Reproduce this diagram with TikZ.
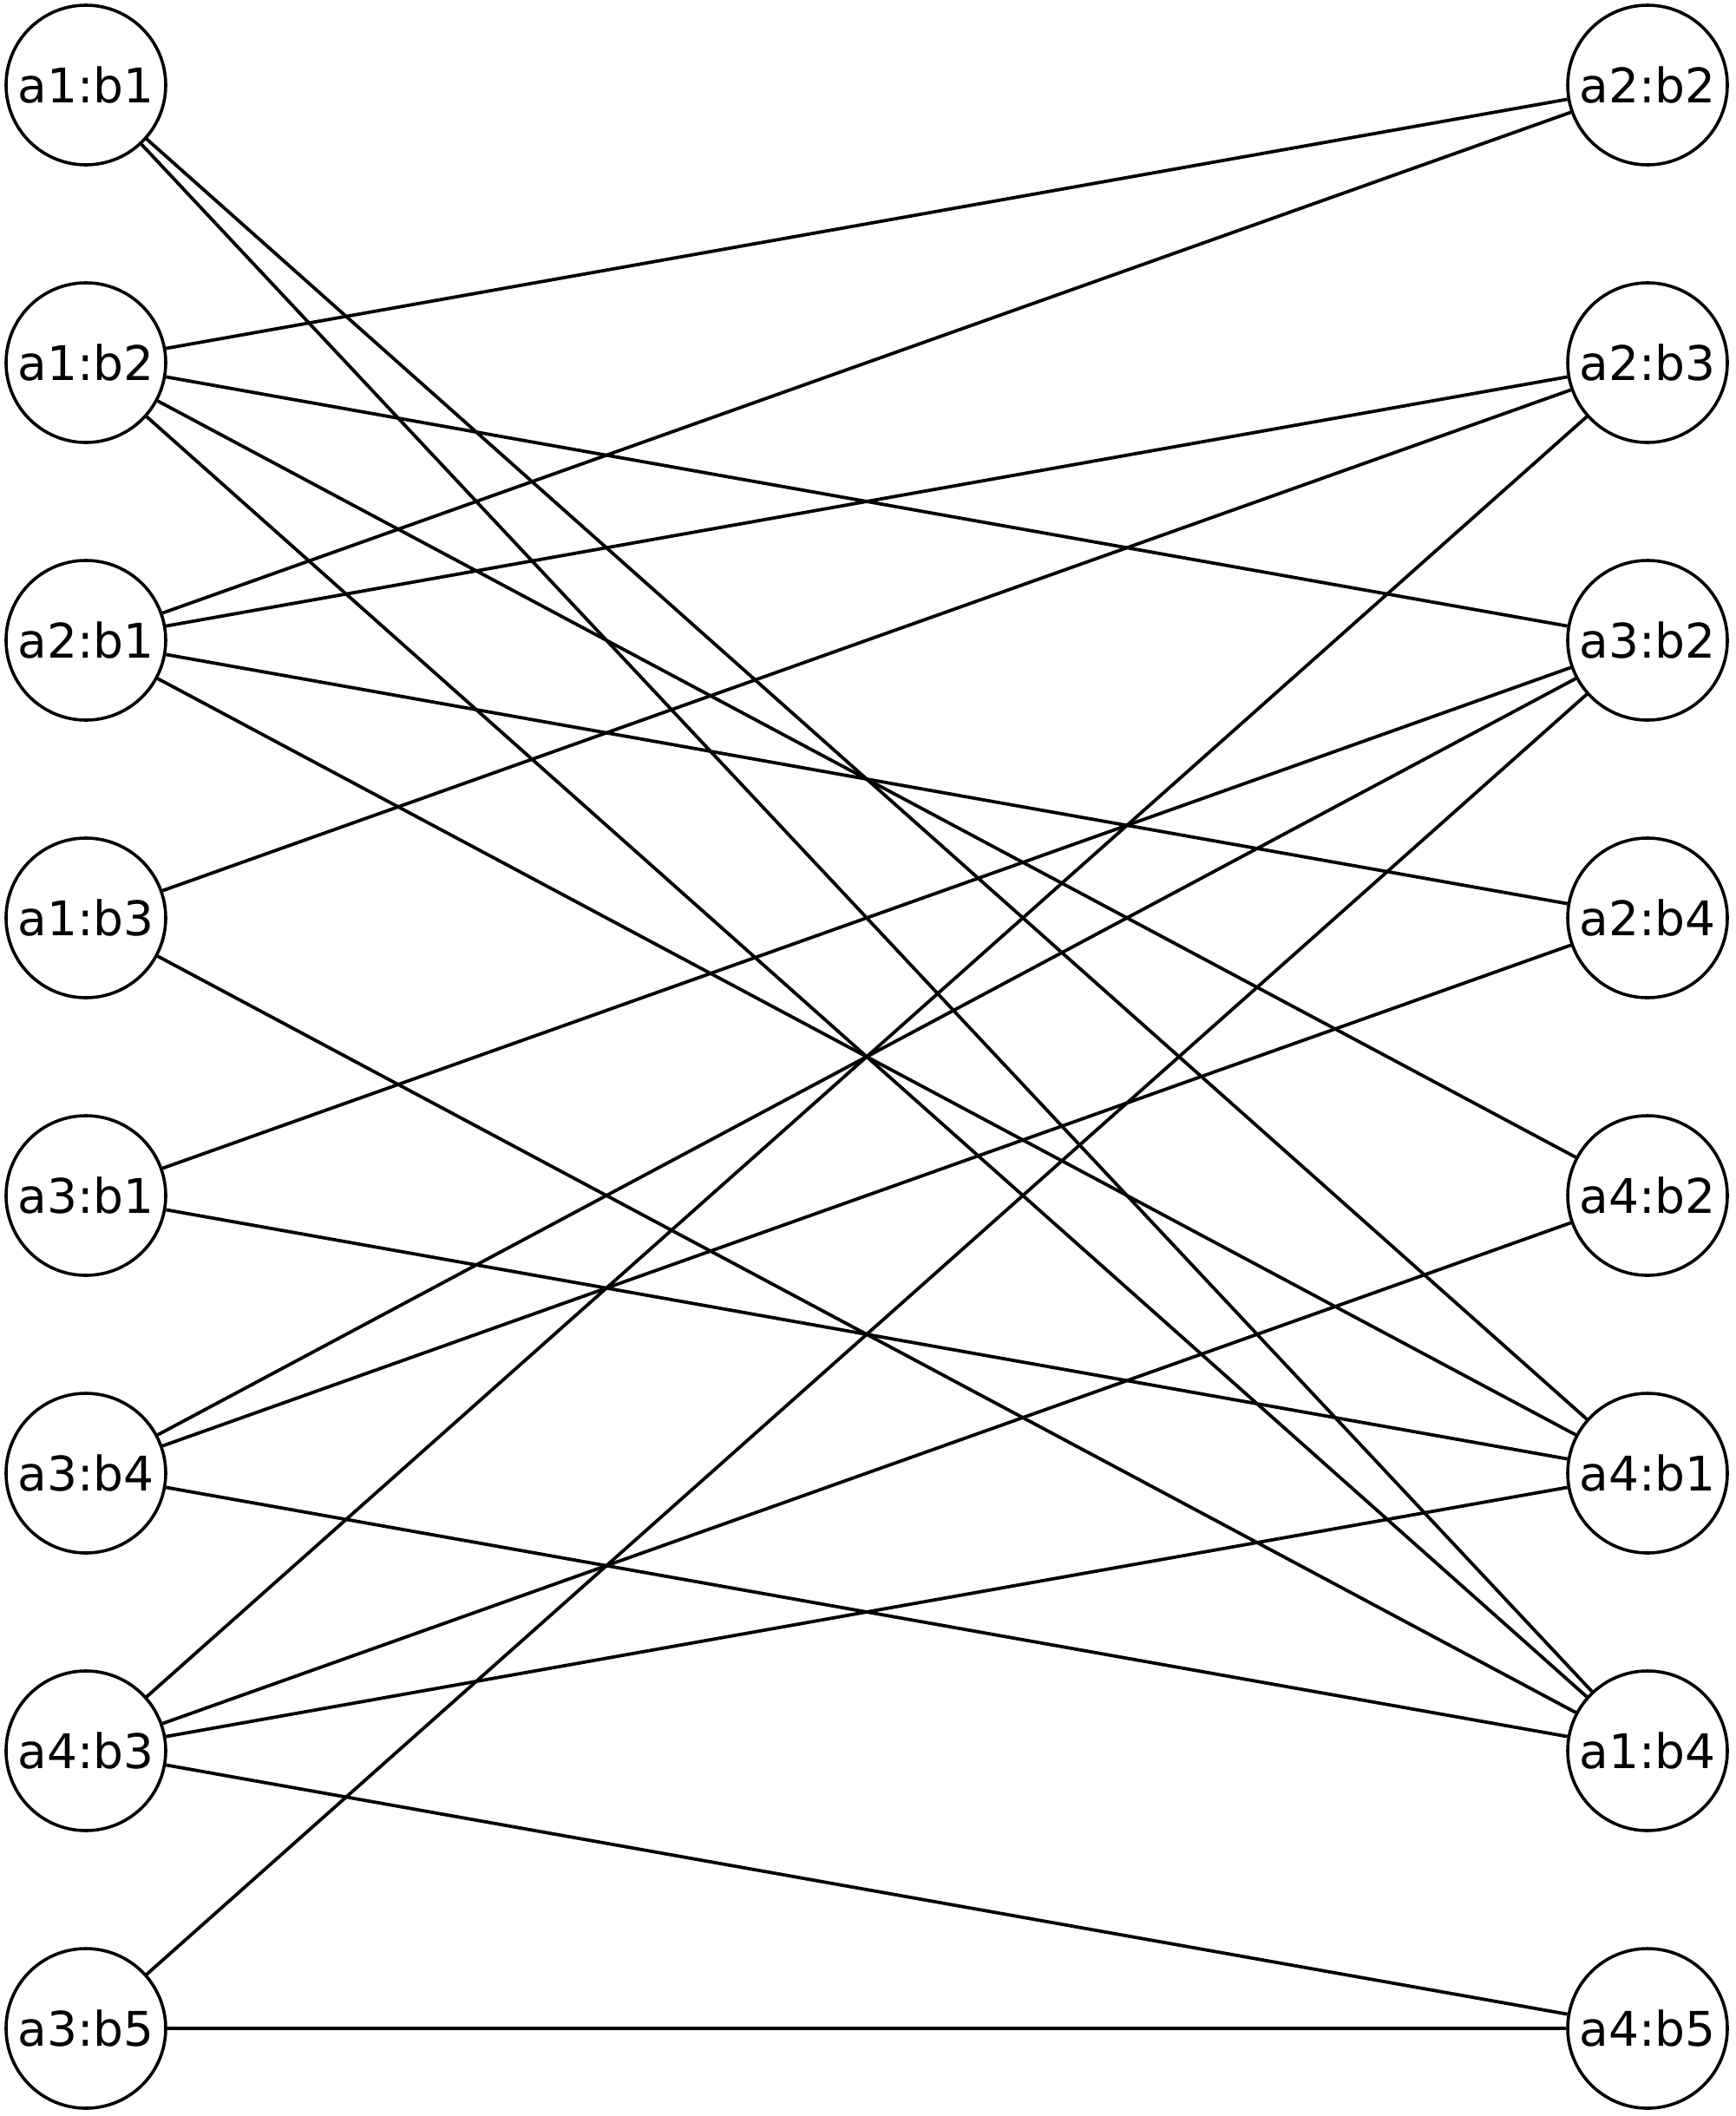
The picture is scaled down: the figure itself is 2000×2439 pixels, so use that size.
\documentclass[tikz,border=0pt]{standalone}
\usepackage{fontspec}
\setmainfont{DejaVu Sans}
\begin{document}
\begin{tikzpicture}[x=1pt,y=-1pt,
  vnode/.style={circle,draw=black,fill=white,line width=3.6pt,minimum size=184pt,inner sep=0pt,font=\fontsize{55}{66}\selectfont},
  edge/.style={line width=3.8pt,black}]
\useasboundingbox (0,0) rectangle (2000,2439);
\foreach \n/\t [count=\i from 0] in {L1/a1:b1,L2/a1:b2,L3/a2:b1,L4/a1:b3,L5/a3:b1,L6/a3:b4,L7/a4:b3,L8/a3:b5}{
  \node[vnode] (\n) at (99,98+320*\i) {\t};
}
\foreach \n/\t [count=\i from 0] in {R1/a2:b2,R2/a2:b3,R3/a3:b2,R4/a2:b4,R5/a4:b2,R6/a4:b1,R7/a1:b4,R8/a4:b5}{
  \node[vnode] (\n) at (1899,98+320*\i) {\t};
}
\foreach \a/\b in {L1/R6,L1/R7,L2/R1,L2/R3,L2/R5,L2/R7,L3/R1,L3/R2,L3/R4,L3/R6,L4/R2,L4/R7,L5/R3,L5/R6,L6/R3,L6/R4,L6/R7,L7/R2,L7/R5,L7/R6,L7/R8,L8/R3,L8/R8}{
  \draw[edge] (\a) -- (\b);
}
\end{tikzpicture}
\end{document}
